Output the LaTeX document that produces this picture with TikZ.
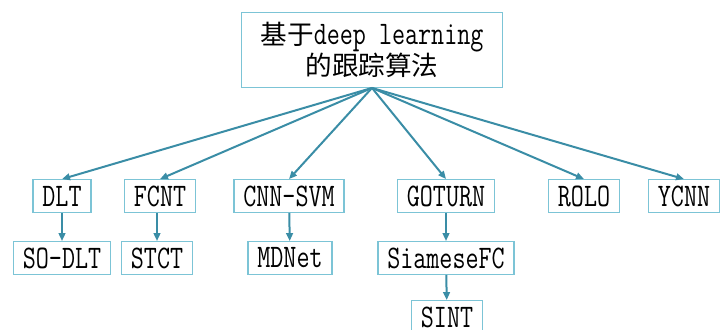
\documentclass[tikz,border=0pt]{standalone}
\usepackage{fontspec}
\usepackage{graphicx}
\newfontfamily\cjk{Noto Sans CJK SC}[Scale=1.05]
\usetikzlibrary{arrows.meta}

\definecolor{boxline}{HTML}{7CC4D6}
\definecolor{arrowline}{HTML}{3A8DA6}

% 글자를 세로로 늘림
\newcommand{\tallt}[1]{\scalebox{1}[1.3]{#1}}

\tikzset{
  algbox/.style={draw=boxline, line width=0.9pt, fill=white, inner xsep=7pt,
    minimum height=24.5pt, font=\fontsize{19}{21}\ttfamily},
  linkarrow/.style={draw=arrowline, line width=1.5pt, -{Triangle[length=6pt, width=5pt]}}
}

\begin{document}
\begin{tikzpicture}[x=0.75pt, y=-0.75pt]
\useasboundingbox (0,0) rectangle (721,329);

% 맨 위 상자
\node[algbox, minimum width=196pt, minimum height=56pt, align=center,
  font=\fontsize{19}{22.5}\ttfamily] at (372,50) (root)
  {{\cjk 基于}\tallt{deep learning}\\{\cjk 的跟踪算法}};

% 첫 번째 줄
\node[algbox] at (62,196) (dlt) {\tallt{DLT}};
\node[algbox] at (160,196) (fcnt) {\tallt{FCNT}};
\node[algbox] at (289,196) (cnnsvm) {\tallt{CNN-SVM}};
\node[algbox] at (446,196) (goturn) {\tallt{GOTURN}};
\node[algbox] at (584,196) (rolo) {\tallt{ROLO}};
\node[algbox] at (684,196) (ycnn) {\tallt{YCNN}};

% 두 번째 줄
\node[algbox] at (62,258) (sodlt) {\tallt{SO-DLT}};
\node[algbox] at (157,258) (stct) {\tallt{STCT}};
\node[algbox] at (290,258) (mdnet) {\tallt{MDNet}};
\node[algbox] at (446,258) (siamesefc) {\tallt{SiameseFC}};

% 세 번째 줄
\node[algbox] at (447,317) (sint) {\tallt{SINT}};

\foreach \child in {dlt,fcnt,cnnsvm,goturn,rolo,ycnn}
  \draw[linkarrow] (root.south) -- (\child.north);

\draw[linkarrow] (dlt) -- (sodlt);
\draw[linkarrow] (fcnt.south -| stct) -- (stct);
\draw[linkarrow] (cnnsvm) -- (mdnet);
\draw[linkarrow] (goturn) -- (siamesefc);
\draw[linkarrow] (siamesefc) -- (sint);
\end{tikzpicture}
\end{document}
